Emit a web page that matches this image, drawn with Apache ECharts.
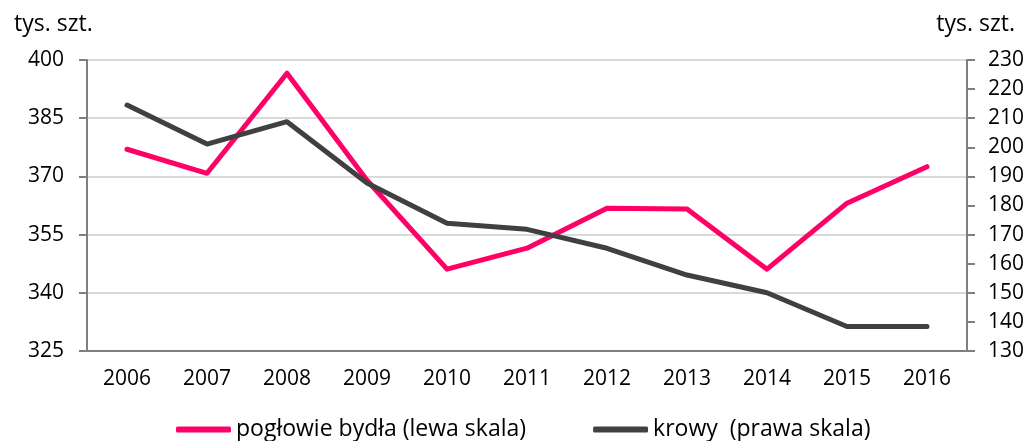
<!DOCTYPE html>
<html>
<head>
<meta charset="utf-8">
<script src="https://cdn.jsdelivr.net/npm/echarts@6/dist/echarts.min.js"></script>
<style>
  html, body { margin: 0; padding: 0; background: #fff; }
  #chart { width: 1027px; height: 441px; }
</style>
</head>
<body>
<div id="chart"></div>
<script>
// dane
var years = ['2006', '2007', '2008', '2009', '2010', '2011', '2012', '2013', '2014', '2015', '2016'];
var bydlo = [377.0, 370.8, 396.6, 369.0, 346.1, 351.5, 361.8, 361.6, 346.1, 363.1, 372.5];
var krowy = [214.5, 201.1, 208.8, 187.7, 173.9, 171.8, 165.3, 156.1, 150.0, 138.4, 138.4];
var leftTicks = [325, 340, 355, 370, 385, 400];
var unitLabel = 'tys. szt.';

var font = 'Open Sans';
var chart = echarts.init(document.getElementById('chart'));

chart.setOption({
    animation: false,
    textStyle: { fontFamily: font },
    title: [
        { text: unitLabel, left: 9, top: 8, textStyle: { fontFamily: font, fontSize: 23, fontWeight: 'normal', color: '#000' } },
        { text: unitLabel, right: 7, top: 8, textStyle: { fontFamily: font, fontSize: 23, fontWeight: 'normal', color: '#000' } }
    ],
    grid: { left: 87, right: 58, top: 60, bottom: 90 },
    legend: {
        left: 171,
        top: 413,
        icon: 'roundRect',
        itemWidth: 55,
        itemHeight: 6,
        itemGap: 67,
        textStyle: { fontFamily: font, fontSize: 23, color: '#000' },
        data: ['pogłowie bydła (lewa skala)', 'krowy  (prawa skala)']
    },
    xAxis: {
        type: 'category',
        data: years,
        boundaryGap: true,
        axisLine: { lineStyle: { color: '#7f7f7f', width: 2 } },
        axisTick: { length: 7, lineStyle: { color: '#7f7f7f', width: 2 } },
        axisLabel: { fontSize: 21, color: '#000', margin: 18 }
    },
    yAxis: [
        {
            type: 'value',
            position: 'left',
            min: 325,
            max: 400,
            axisLine: { show: true, lineStyle: { color: '#7f7f7f', width: 2 } },
            axisTick: { show: true, length: 8, customValues: leftTicks, lineStyle: { color: '#7f7f7f', width: 2 } },
            axisLabel: { fontSize: 21, color: '#000', margin: 23, customValues: leftTicks },
            splitLine: { show: false }
        },
        {
            type: 'value',
            position: 'right',
            min: 130,
            max: 230,
            interval: 10,
            axisLine: { show: true, lineStyle: { color: '#7f7f7f', width: 2 } },
            axisTick: { show: true, length: 8, lineStyle: { color: '#7f7f7f', width: 2 } },
            axisLabel: { fontSize: 21, color: '#000', margin: 21 },
            splitLine: { show: false }
        },
        {
            // tylko linie siatki
            type: 'value',
            position: 'left',
            min: 0,
            max: 75,
            interval: 15,
            axisLine: { show: false },
            axisTick: { show: false },
            axisLabel: { show: false },
            splitLine: { show: true, lineStyle: { color: '#d9d9d9', width: 2 } }
        }
    ],
    series: [
        {
            name: 'pogłowie bydła (lewa skala)',
            type: 'line',
            yAxisIndex: 0,
            data: bydlo,
            symbol: 'none',
            z: 3,
            color: '#ff0066',
            lineStyle: { color: '#ff0066', width: 5, cap: 'round', join: 'round' }
        },
        {
            name: 'krowy  (prawa skala)',
            type: 'line',
            yAxisIndex: 1,
            data: krowy,
            symbol: 'none',
            z: 4,
            color: '#404040',
            lineStyle: { color: '#404040', width: 5, cap: 'round', join: 'round' }
        }
    ]
});
</script>
</body>
</html>
